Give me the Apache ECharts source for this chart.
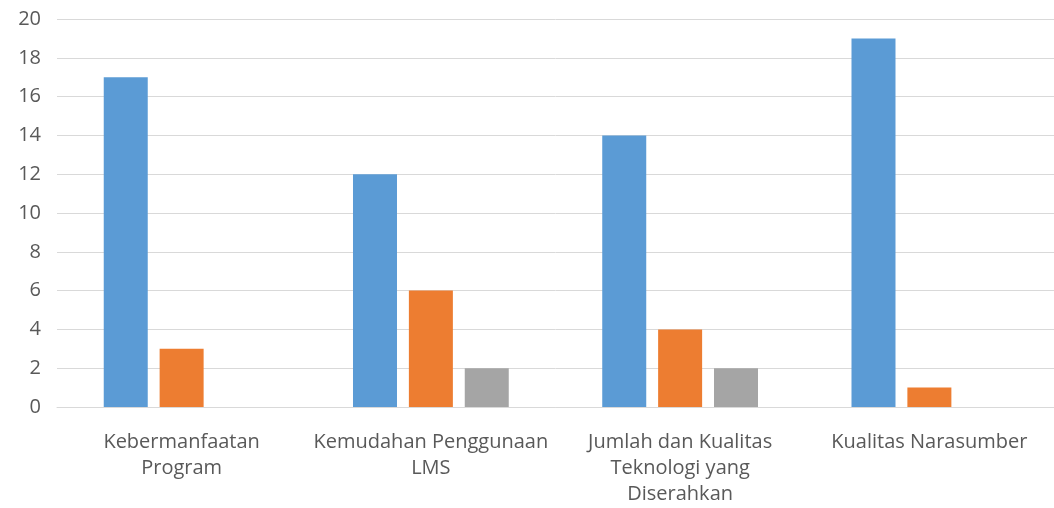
<!DOCTYPE html>
<html>
<head>
<meta charset="utf-8">
<script src="https://cdn.jsdelivr.net/npm/echarts@6/dist/echarts.min.js"></script>
<style>
  html, body { margin: 0; padding: 0; background: #fff; }
  #chart { width: 1054px; height: 508px; }
</style>
</head>
<body>
<div id="chart"></div>
<script>
// categories (tick labels, with the line breaks of the original)
var categories = [
  'Kebermanfaatan\nProgram',
  'Kemudahan Penggunaan\nLMS',
  'Jumlah dan Kualitas\nTeknologi yang\nDiserahkan',
  'Kualitas Narasumber'
];
var seriesBlue = [17, 12, 14, 19];
var seriesOrange = [3, 6, 4, 1];
var seriesGray = [0, 2, 2, 0];

var chart = echarts.init(document.getElementById('chart'));
var font = 'Open Sans, Noto Sans, sans-serif';

chart.setOption({
  animation: false,
  // plot area runs a little past the right edge, as in the original
  grid: { left: 57, right: -7, top: 19, bottom: 101 },
  xAxis: {
    type: 'category',
    data: categories,
    axisLine: { lineStyle: { color: '#d9d9d9', width: 1 } },
    axisTick: { show: false },
    axisLabel: {
      color: '#595959',
      fontSize: 20,
      fontFamily: font,
      lineHeight: 26,
      margin: 22,
      interval: 0
    }
  },
  yAxis: {
    type: 'value',
    min: 0,
    max: 20,
    interval: 2,
    axisLine: { show: false },
    axisTick: { show: false },
    splitLine: { lineStyle: { color: '#d9d9d9', width: 1 } },
    axisLabel: {
      color: '#595959',
      fontSize: 20,
      fontFamily: font,
      margin: 16
    }
  },
  series: [
    { type: 'bar', data: seriesBlue, barWidth: 44, barGap: '27%', itemStyle: { color: '#5b9bd5' } },
    { type: 'bar', data: seriesOrange, barWidth: 44, itemStyle: { color: '#ed7d31' } },
    { type: 'bar', data: seriesGray, barWidth: 44, itemStyle: { color: '#a5a5a5' } }
  ]
});
</script>
</body>
</html>
